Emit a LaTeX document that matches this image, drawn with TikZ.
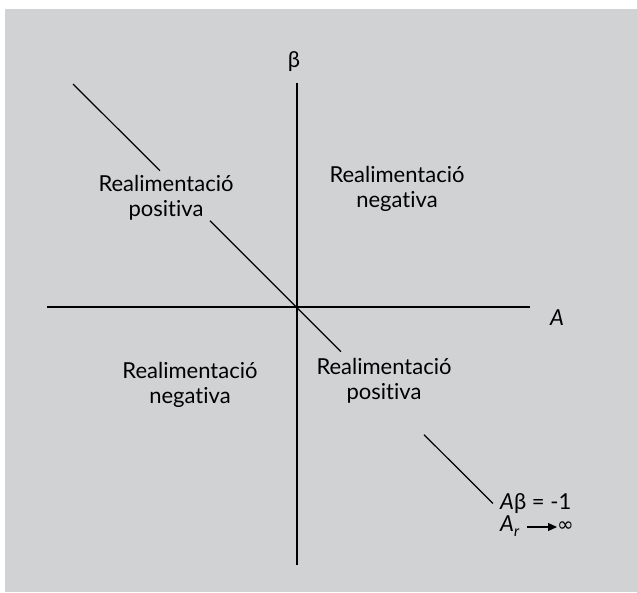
\documentclass[tikz,border=0pt]{standalone}
\usepackage{fontspec}
\setmainfont{Lato}[Ligatures={NoCommon,NoDiscretionary,NoContextual}]
\newfontfamily\symfont{DejaVu Sans}
\usetikzlibrary{arrows.meta}
\begin{document}
\begin{tikzpicture}[x=1pt,y=-1pt,
  lbl/.style={font=\fontsize{22}{25}\selectfont, align=center, inner sep=0pt},
  axis/.style={line width=1.3pt},
  diag/.style={line width=1.2pt}]
\useasboundingbox (0,0) rectangle (637,592);
\fill[white] (0,0) rectangle (637,592);
\fill[fill={rgb,255:red,209;green,210;blue,212}] (5,9) rectangle (637,592);
% axes
\coordinate (vtop) at (297,83);
\coordinate (vbot) at (297,565);
\coordinate (hl) at (47,307);
\coordinate (hr) at (530,307);
\draw[axis] (vtop) -- (vbot);
\draw[axis] (hl) -- (hr);
% diagonal segments
\coordinate (d1a) at (73,84);
\coordinate (d1b) at (160,170.7);
\coordinate (d2a) at (210,220.7);
\coordinate (d2b) at (341,351.7);
\coordinate (d3a) at (424,434.7);
\coordinate (d3b) at (493,503.4);
\draw[diag] (d1a) -- (d1b);
\draw[diag] (d2a) -- (d2b);
\draw[diag] (d3a) -- (d3b);
% labels
\node[lbl] (beta) at (294,62) {β};
\node[lbl, font=\fontsize{22}{25}\selectfont\itshape] (alab) at (557,318) {A};
\node[lbl] (ul) at (166,198) {Realimentació\\positiva};
\node[lbl] (ur) at (397,189) {Realimentació\\negativa};
\node[lbl] (ll) at (190,385) {Realimentació\\negativa};
\node[lbl] (lr) at (384,381) {Realimentació\\positiva};
\node[lbl, anchor=west] (eq) at (500,504) {\textit{A}β = -1};
\node[lbl, anchor=west] (ar) at (500,526) {\textit{A}\raisebox{-0.25em}{\fontsize{15}{15}\selectfont\textit{r}}};
\node[lbl, anchor=west, font=\fontsize{20}{20}\selectfont\symfont] (inf) at (557,527) {∞};
\coordinate (arS) at (527,527);
\draw[line width=1.1pt, -{Triangle[length=9pt,width=8pt]}] (arS) -- (inf.west);
\end{tikzpicture}
\end{document}
